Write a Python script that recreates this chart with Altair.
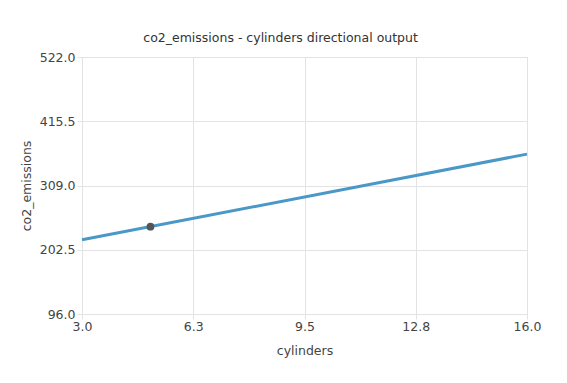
import altair as alt
import pandas as pd

line_x = [3.0, 16.0]
line_y = [219.0, 361.0]
point_x = [5.0]
point_y = [240.8]
x_ticks = [3.0, 6.25, 9.5, 12.75, 16.0]
y_ticks = [96.0, 202.5, 309.0, 415.5, 522.0]

line_df = pd.DataFrame({"cylinders": line_x, "co2_emissions": line_y})
point_df = pd.DataFrame({"cylinders": point_x, "co2_emissions": point_y})

font = "DejaVu Sans"
fs = 12.5
xs = alt.Scale(domain=[3.0, 16.0], nice=False, zero=False)
ys = alt.Scale(domain=[96.0, 522.0], nice=False, zero=False)
xax = alt.Axis(values=x_ticks, format=".1f", title="cylinders", grid=True,
               gridColor="#e3e3e3", domainColor="#e3e3e3", tickColor="#e3e3e3",
               tickSize=5, labelFontSize=fs, labelColor="#444444", labelFont=font,
               labelFlush=False,
               titleFontSize=fs, titleFont=font, titleColor="#444444", titleFontWeight="normal",
               labelPadding=1, titlePadding=12)
yax = alt.Axis(values=y_ticks, format=".1f", title="co2_emissions", grid=True,
               gridColor="#e3e3e3", domainColor="#e3e3e3", tickColor="#e3e3e3",
               tickSize=5, labelFontSize=fs, labelColor="#444444", labelFont=font,
               labelFlush=False,
               titleFontSize=fs, titleFont=font, titleColor="#444444", titleFontWeight="normal",
               labelPadding=2, titlePadding=6)

line = alt.Chart(line_df).mark_line(color="#4a98c8", strokeWidth=3).encode(
    x=alt.X("cylinders:Q", scale=xs, axis=xax),
    y=alt.Y("co2_emissions:Q", scale=ys, axis=yax),
)
pt = alt.Chart(point_df).mark_point(filled=True, color="#555555", size=60, opacity=1).encode(
    x=alt.X("cylinders:Q", scale=xs),
    y=alt.Y("co2_emissions:Q", scale=ys),
)

chart = (line + pt).properties(
    width=445, height=257,
    title=alt.TitleParams("co2_emissions - cylinders directional output", fontSize=fs,
                          font=font, fontWeight="normal", color="#333333", offset=7,
                          frame="bounds"),
    autosize=alt.AutoSizeParams(type="none"),
    padding={"left": 74, "top": 49, "right": 20, "bottom": 50},
).configure_view(stroke=None).configure(background="white")

chart.save("out.html", embed_options={"renderer": "svg", "actions": False})
